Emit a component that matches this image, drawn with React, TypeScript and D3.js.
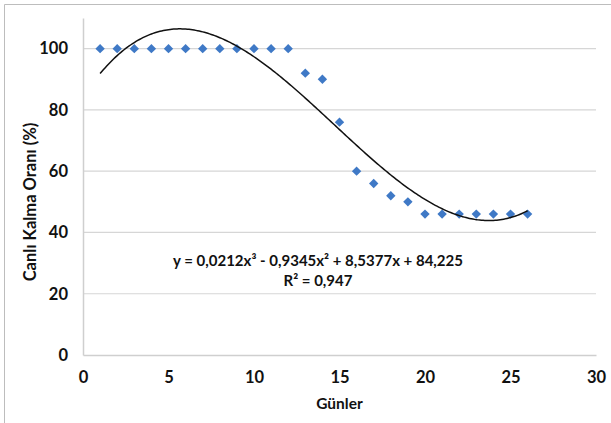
import { useEffect, useRef } from "react"
import * as d3 from "d3"

// days and survival rate
const days = [1, 2, 3, 4, 5, 6, 7, 8, 9, 10, 11, 12, 13, 14, 15, 16, 17, 18, 19, 20, 21, 22, 23, 24, 25, 26]
const survival = [100, 100, 100, 100, 100, 100, 100, 100, 100, 100, 100, 100, 92, 90, 76, 60, 56, 52, 50, 46, 46, 46, 46, 46, 46, 46]

// trendline coefficients as printed on the chart (x^3, x^2, x, const)
const trendCoef = [0.0212, -0.9345, 8.5377, 84.225]
const trendLabel = "y = 0,0212x³ - 0,9345x² + 8,5377x + 84,225"
const r2Label = "R² = 0,947"

const xTicks = [0, 5, 10, 15, 20, 25, 30]
const yTicks = [0, 20, 40, 60, 80, 100]

const App = () => {
  const svgRef = useRef<SVGSVGElement>(null)

  useEffect(() => {
    const svg = d3.select(svgRef.current)
    svg.selectAll("*").remove()

    const font = "Lato, 'Open Sans', sans-serif"
    const ink = "#111"

    //plot area
    const left = 83, right = 596, top = 18, bottom = 355

    const x = d3.scaleLinear().domain([0, 30]).range([left, right])
    const y = d3.scaleLinear().domain([0, 110]).range([bottom, top])

    //outer frame (only top and left visible in the original crop)
    svg.append("path")
      .attr("d", "M4.5,430 V4.5 H620")
      .attr("fill", "none")
      .attr("stroke", "#bdbdbd")
      .attr("stroke-width", 1)

    //gridlines
    svg.append("g")
      .selectAll("line")
      .data(yTicks.filter(d => d > 0))
      .enter()
      .append("line")
      .attr("x1", left)
      .attr("x2", right)
      .attr("y1", d => y(d))
      .attr("y2", d => y(d))
      .attr("stroke", "#d6d6d6")
      .attr("stroke-width", 1.2)

    //x axis
    const xAxis = svg.append("g")
      .attr("transform", `translate(0, ${bottom})`)
      .call(d3.axisBottom(x).tickValues(xTicks).tickSize(0).tickPadding(16))
    xAxis.select(".domain").attr("stroke", "#cfcfcf").attr("stroke-width", 1.5)
    xAxis.selectAll("text")
      .attr("font-family", font)
      .attr("font-weight", "bold")
      .attr("font-size", 16.5)
      .attr("fill", ink)

    //y axis
    const yAxis = svg.append("g")
      .attr("transform", `translate(${left}, 0)`)
      .call(d3.axisLeft(y).tickValues(yTicks).tickSize(0).tickPadding(15))
    yAxis.select(".domain").attr("stroke", "#cfcfcf").attr("stroke-width", 1.5)
    yAxis.selectAll("text")
      .attr("font-family", font)
      .attr("font-weight", "bold")
      .attr("font-size", 16.5)
      .attr("fill", ink)

    //points
    svg.append("g")
      .selectAll("path")
      .data(days)
      .enter()
      .append("path")
      .attr("d", d3.symbol().type(d3.symbolSquare).size(44))
      .attr("transform", (d, i) => `translate(${x(d)}, ${y(survival[i])}) rotate(45)`)
      .attr("fill", "#3f79c6")

    //polynomial trendline
    const poly = (t: number) => trendCoef.reduce((acc, c) => acc * t + c, 0)
    const curveX = d3.range(days[0], days[days.length - 1] + 0.001, 0.1)
    const line = d3.line<number>()
      .x(d => x(d))
      .y(d => y(poly(d)))
    svg.append("path")
      .datum(curveX)
      .attr("d", line)
      .attr("fill", "none")
      .attr("stroke", "#111")
      .attr("stroke-width", 1.5)

    //trendline label
    svg.append("text")
      .attr("x", 318)
      .attr("y", 265.5)
      .attr("text-anchor", "middle")
      .attr("font-family", font)
      .attr("font-weight", "bold")
      .attr("font-size", 15)
      .attr("fill", ink)
      .text(trendLabel)
    svg.append("text")
      .attr("x", 318)
      .attr("y", 285.5)
      .attr("text-anchor", "middle")
      .attr("font-family", font)
      .attr("font-weight", "bold")
      .attr("font-size", 15)
      .attr("fill", ink)
      .text(r2Label)

    //axis titles
    svg.append("text")
      .attr("x", (left + right) / 2)
      .attr("y", 409)
      .attr("text-anchor", "middle")
      .attr("font-family", font)
      .attr("font-weight", "bold")
      .attr("font-size", 15.5)
      .attr("fill", ink)
      .text("Günler")

    svg.append("text")
      .attr("transform", `translate(36, ${(49 + bottom) / 2}) rotate(-90)`)
      .attr("text-anchor", "middle")
      .attr("font-family", font)
      .attr("font-weight", "bold")
      .attr("font-size", 16.5)
      .attr("fill", ink)
      .text("Canlı Kalma Oranı (%)")
  }, [])

  return (
    <svg ref={svgRef} width={611} height={423} style={{ position: "absolute", left: 0, top: 0, background: "#fff" }}>
    </svg>
  )
}

export default App
